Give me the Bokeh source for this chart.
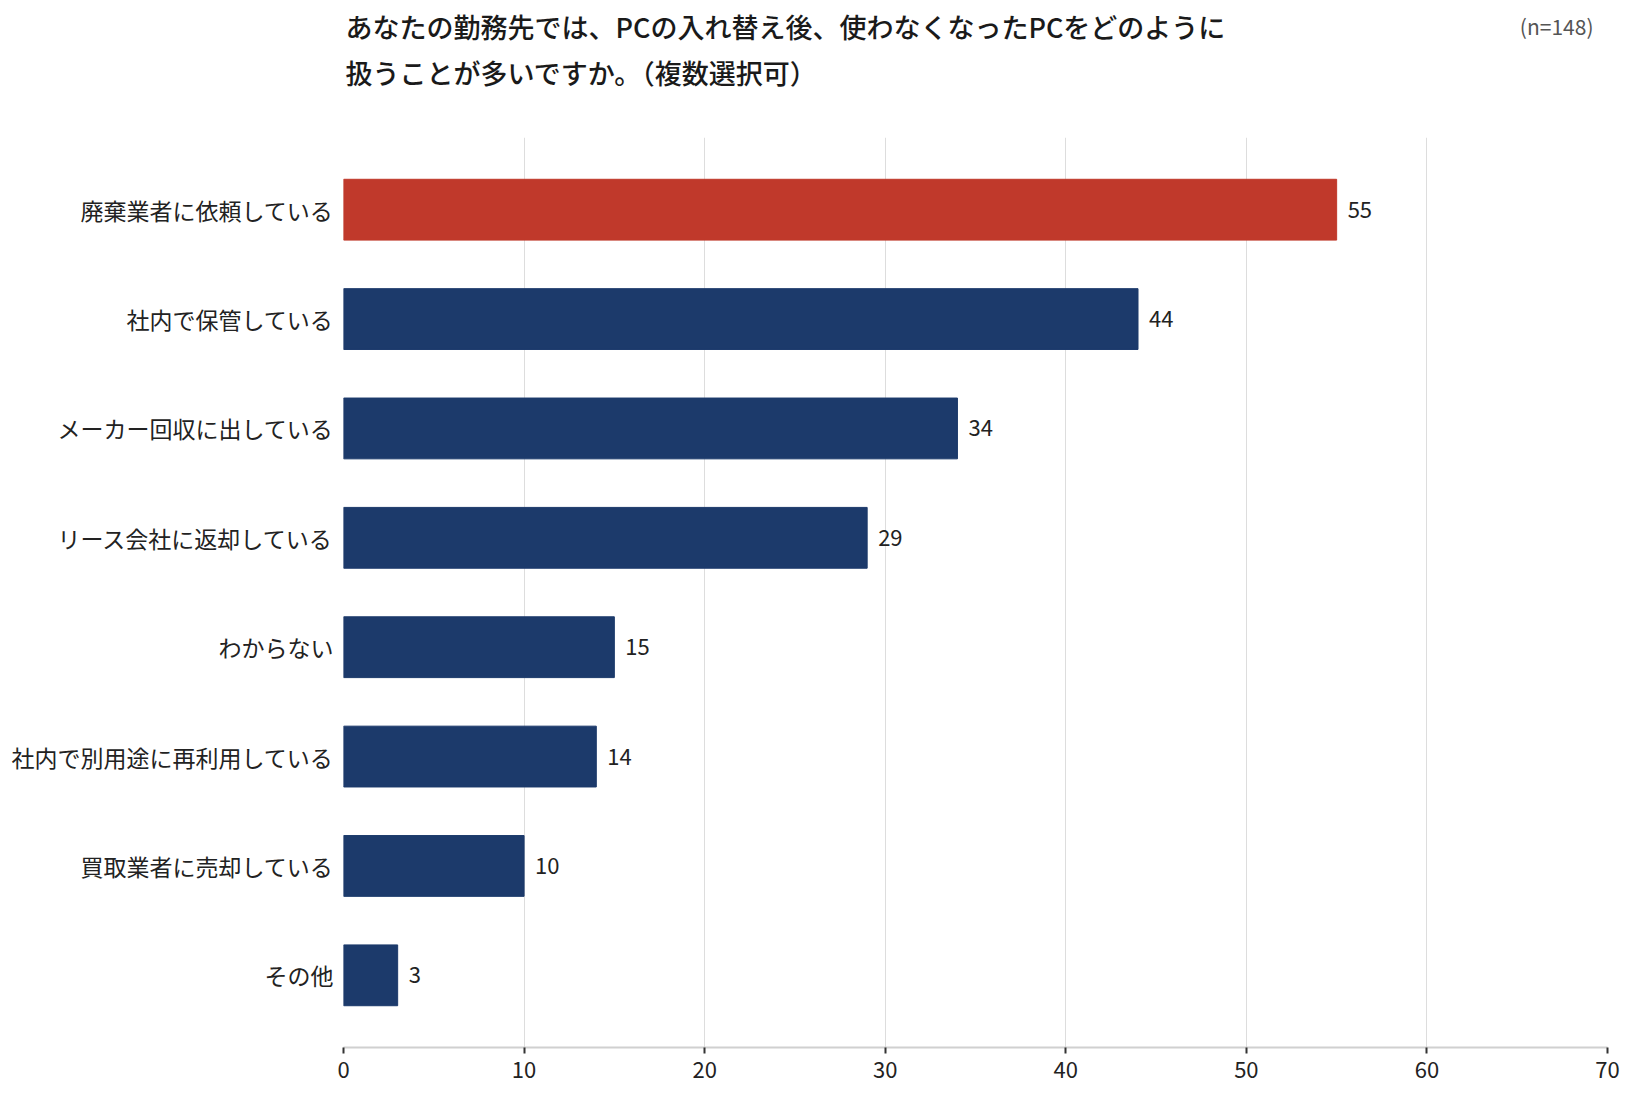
from bokeh.plotting import figure
from bokeh.models import ColumnDataSource, FactorRange, Range1d, FixedTicker
from bokeh.layouts import column
from bokeh.core.properties import value
from bokeh.embed import file_html
from bokeh.resources import INLINE

categories = [
    "廃棄業者に依頼している",
    "社内で保管している",
    "メーカー回収に出している",
    "リース会社に返却している",
    "わからない",
    "社内で別用途に再利用している",
    "買取業者に売却している",
    "その他",
]
counts = [55, 44, 34, 29, 15, 14, 10, 3]
x_ticks = [0, 10, 20, 30, 40, 50, 60, 70]
title_lines = [
    "あなたの勤務先では、PCの入れ替え後、使わなくなったPCをどのように",
    "扱うことが多いですか。（複数選択可）",
]
sample_note = "(n=148)"

FONT = "Noto Sans CJK JP"
TITLE_FONT = "Noto Sans CJK JP Medium, Noto Sans CJK JP"
RED = "#c0392b"
BLUE = "#1c3a6b"

W = 1634
HEAD_H = 137
CHART_H = 1099 - HEAD_H
FRAME_L, FRAME_R = 343, 1607

# ---- heading strip (title + sample size); its frame is aligned with the chart frame ----
head = figure(width=W, height=HEAD_H, output_backend="svg", toolbar_location=None,
              x_range=Range1d(FRAME_L, FRAME_R), y_range=Range1d(HEAD_H, 0),
              min_border_left=FRAME_L, min_border_right=W - FRAME_R,
              min_border_top=0, min_border_bottom=0, outline_line_color=None)
head.axis.visible = False
head.grid.visible = False
head.border_fill_color = "white"
head.background_fill_color = "white"
head.text(x=[345, 345], y=[26, 71.5], text=title_lines,
          text_font=value(TITLE_FONT), text_font_size="27px",
          text_color="#1a1a1a", text_baseline="middle", text_align="left")
head.text(x=[1593], y=[25], text=[sample_note],
          text_font=value(FONT), text_font_size="21px",
          text_color="#555555", text_baseline="middle", text_align="right")

# ---- bar chart ----
top = max(counts)
colors = [RED if c == top else BLUE for c in counts]
src = ColumnDataSource(dict(cat=categories, v=counts, color=colors,
                            lbl=[str(c) for c in counts]))

PAD = 0.16
p = figure(width=W, height=CHART_H, output_backend="svg", toolbar_location=None,
           y_range=FactorRange(factors=list(reversed(categories)),
                               range_padding=PAD, range_padding_units="absolute"),
           x_range=Range1d(0, 70),
           min_border_left=FRAME_L, min_border_right=W - FRAME_R,
           min_border_top=0, min_border_bottom=52)
p.outline_line_color = None
p.background_fill_color = "white"
p.border_fill_color = "white"

p.hbar(y="cat", left=0, right="v", height=0.556, color="color", source=src)
p.text(x="v", y="cat", text="lbl", source=src, x_offset=11,
       text_baseline="middle", text_align="left",
       text_font=value(FONT), text_font_size="22px", text_color="#222222")

p.xaxis.ticker = FixedTicker(ticks=x_ticks)
p.xaxis.axis_line_color = "#d0d0d0"
p.xaxis.axis_line_width = 2
p.xaxis.major_tick_line_color = "#333333"
p.xaxis.major_tick_line_width = 2
p.xaxis.major_tick_in = 0
p.xaxis.major_tick_out = 6
p.xaxis.minor_tick_line_color = None
p.xaxis.major_label_standoff = 8
p.xaxis.major_label_text_font = FONT
p.xaxis.major_label_text_font_size = "22px"
p.xaxis.major_label_text_color = "#222222"

p.yaxis.axis_line_color = None
p.yaxis.major_tick_line_color = None
p.yaxis.minor_tick_line_color = None
p.yaxis.major_tick_in = 0
p.yaxis.major_tick_out = 0
p.yaxis.major_label_standoff = 10
p.yaxis.major_label_text_font = FONT
p.yaxis.major_label_text_font_size = "23px"
p.yaxis.major_label_text_color = "#222222"

p.xgrid.grid_line_color = "#dddddd"
p.xgrid.grid_line_width = 1
p.ygrid.grid_line_color = None

layout = column(head, p, spacing=0)
open("out.html", "w").write(file_html(layout, INLINE))
